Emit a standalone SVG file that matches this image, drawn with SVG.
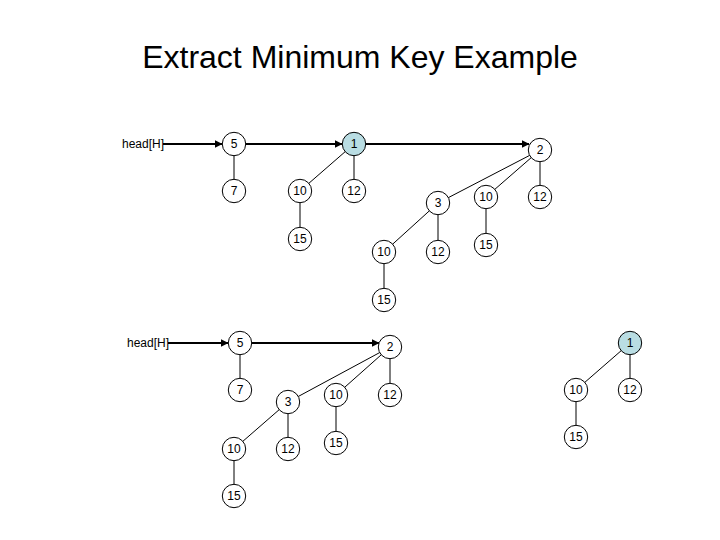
<svg xmlns="http://www.w3.org/2000/svg" width="720" height="540" viewBox="0 0 720 540">
<style>
.n circle{fill:#fff;stroke:#000;stroke-width:1}
.n.min circle{fill:#b9dde3}
.n text{font-family:"Liberation Sans",Arial,sans-serif;font-size:12px;text-anchor:middle;dominant-baseline:central;fill:#000}
.e{stroke:#000;stroke-width:1;fill:none}
.a{stroke:#000;stroke-width:2;fill:none;marker-end:url(#ah)}
.lbl{font-family:"Liberation Sans",Arial,sans-serif;font-size:12px;fill:#000}
</style>
<defs>
<marker id="ah" viewBox="0 0 8 8" refX="7.5" refY="4" markerWidth="4" markerHeight="4" orient="auto" markerUnits="strokeWidth">
<path d="M0,0 L8,4 L0,8 z" fill="#000"/>
</marker>
</defs>
<rect width="720" height="540" fill="#fff"/>
<text x="360" y="68" font-family="'Liberation Sans',Arial,sans-serif" font-size="32" text-anchor="middle">Extract Minimum Key Example</text>
<text class="lbl" x="122" y="148">head[H]</text>
<text class="lbl" x="127" y="347">head[H]</text>
<g id="connectors">
<line class="a" x1="163" y1="144" x2="222" y2="144"/>
<line class="a" x1="245.5" y1="144" x2="342" y2="144"/>
<line class="a" x1="365.5" y1="144" x2="529" y2="144"/>
<line class="e" x1="234" y1="144" x2="234" y2="191"/>
<line class="e" x1="354" y1="144" x2="300" y2="191"/>
<line class="e" x1="354" y1="144" x2="354" y2="191"/>
<line class="e" x1="300" y1="191" x2="300" y2="239"/>
<line class="e" x1="540" y1="150" x2="438" y2="203"/>
<line class="e" x1="540" y1="150" x2="486" y2="197"/>
<line class="e" x1="540" y1="150" x2="540" y2="197"/>
<line class="e" x1="438" y1="203" x2="384" y2="252"/>
<line class="e" x1="438" y1="203" x2="438" y2="252"/>
<line class="e" x1="486" y1="197" x2="486" y2="245"/>
<line class="e" x1="384" y1="252" x2="384" y2="300"/>
<line class="a" x1="168" y1="343" x2="228" y2="343"/>
<line class="a" x1="251.5" y1="343" x2="379" y2="343"/>
<line class="e" x1="240" y1="343" x2="240" y2="390"/>
<line class="e" x1="390" y1="347" x2="288" y2="402"/>
<line class="e" x1="390" y1="347" x2="336" y2="395"/>
<line class="e" x1="390" y1="347" x2="390" y2="395"/>
<line class="e" x1="288" y1="402" x2="234" y2="449"/>
<line class="e" x1="288" y1="402" x2="288" y2="449"/>
<line class="e" x1="336" y1="395" x2="336" y2="443"/>
<line class="e" x1="234" y1="449" x2="234" y2="496"/>
<line class="e" x1="630" y1="343" x2="576" y2="390"/>
<line class="e" x1="630" y1="343" x2="630" y2="390"/>
<line class="e" x1="576" y1="390" x2="576" y2="437"/>
</g>
<g id="t-5" class="n"><circle cx="234" cy="144" r="11.7"/><text x="234" y="144">5</text></g>
<g id="t-7" class="n"><circle cx="234" cy="191" r="11.7"/><text x="234" y="191">7</text></g>
<g id="t-1" class="n min"><circle cx="354" cy="144" r="11.7"/><text x="354" y="144">1</text></g>
<g id="t-10a" class="n"><circle cx="300" cy="191" r="11.7"/><text x="300" y="191">10</text></g>
<g id="t-12a" class="n"><circle cx="354" cy="191" r="11.7"/><text x="354" y="191">12</text></g>
<g id="t-15a" class="n"><circle cx="300" cy="239" r="11.7"/><text x="300" y="239">15</text></g>
<g id="t-2" class="n"><circle cx="540" cy="150" r="11.7"/><text x="540" y="150">2</text></g>
<g id="t-3" class="n"><circle cx="438" cy="203" r="11.7"/><text x="438" y="203">3</text></g>
<g id="t-10b" class="n"><circle cx="486" cy="197" r="11.7"/><text x="486" y="197">10</text></g>
<g id="t-12b" class="n"><circle cx="540" cy="197" r="11.7"/><text x="540" y="197">12</text></g>
<g id="t-15b" class="n"><circle cx="486" cy="245" r="11.7"/><text x="486" y="245">15</text></g>
<g id="t-10c" class="n"><circle cx="384" cy="252" r="11.7"/><text x="384" y="252">10</text></g>
<g id="t-12c" class="n"><circle cx="438" cy="252" r="11.7"/><text x="438" y="252">12</text></g>
<g id="t-15c" class="n"><circle cx="384" cy="300" r="11.7"/><text x="384" y="300">15</text></g>
<g id="b-5" class="n"><circle cx="240" cy="343" r="11.7"/><text x="240" y="343">5</text></g>
<g id="b-7" class="n"><circle cx="240" cy="390" r="11.7"/><text x="240" y="390">7</text></g>
<g id="b-2" class="n"><circle cx="390" cy="347" r="11.7"/><text x="390" y="347">2</text></g>
<g id="b-3" class="n"><circle cx="288" cy="402" r="11.7"/><text x="288" y="402">3</text></g>
<g id="b-10a" class="n"><circle cx="336" cy="395" r="11.7"/><text x="336" y="395">10</text></g>
<g id="b-12a" class="n"><circle cx="390" cy="395" r="11.7"/><text x="390" y="395">12</text></g>
<g id="b-15a" class="n"><circle cx="336" cy="443" r="11.7"/><text x="336" y="443">15</text></g>
<g id="b-10b" class="n"><circle cx="234" cy="449" r="11.7"/><text x="234" y="449">10</text></g>
<g id="b-12b" class="n"><circle cx="288" cy="449" r="11.7"/><text x="288" y="449">12</text></g>
<g id="b-15b" class="n"><circle cx="234" cy="496" r="11.7"/><text x="234" y="496">15</text></g>
<g id="b-1" class="n min"><circle cx="630" cy="343" r="11.7"/><text x="630" y="343">1</text></g>
<g id="b-10c" class="n"><circle cx="576" cy="390" r="11.7"/><text x="576" y="390">10</text></g>
<g id="b-12c" class="n"><circle cx="630" cy="390" r="11.7"/><text x="630" y="390">12</text></g>
<g id="b-15c" class="n"><circle cx="576" cy="437" r="11.7"/><text x="576" y="437">15</text></g>
</svg>
